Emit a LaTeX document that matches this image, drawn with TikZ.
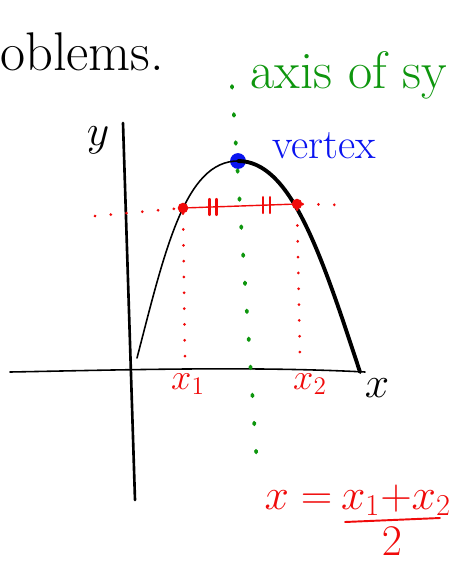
\documentclass[tikz,border=0pt]{standalone}
\usepackage{tikz}
\usepackage{xcolor}
\usetikzlibrary{positioning,calc}
\definecolor{InkBlack}{HTML}{000000}
\definecolor{InkRed}{HTML}{F00A0A}
\definecolor{InkGreen}{HTML}{0E960E}
\definecolor{InkBlue}{HTML}{0A14F0}
\tikzset{
    % Pen strokes
    ink/.style={
        draw=InkBlack,
        line width=0.9pt,
        line cap=round,
        line join=round
    },
    ink thick/.style={
        ink,
        line width=2.2pt
    },
    ink red/.style={
        ink,
        draw=InkRed,
        line width=0.8pt
    },
    dots red/.style={
        draw=InkRed,
        line width=1.7pt,
        line cap=round,
        dash pattern=on 0.01pt off 9pt
    },
    dots green/.style={
        draw=InkGreen,
        line width=2.1pt,
        line cap=round,
        dash pattern=on 1pt off 15pt
    },
    % Written labels
    scrawl/.style={
        inner sep=0pt,
        text=InkBlack,
        font=\fontsize{28}{32}\selectfont
    },
    scrawl red/.style={
        scrawl,
        text=InkRed,
        font=\fontsize{20}{24}\selectfont
    },
    scrawl green/.style={
        scrawl,
        text=InkGreen,
        font=\fontsize{30}{34}\selectfont
    },
    scrawl blue/.style={
        scrawl,
        text=InkBlue,
        font=\fontsize{24}{28}\selectfont
    },
    formula/.style={
        scrawl red,
        font=\fontsize{23}{27}\selectfont
    },
    dot/.style={
        circle,
        inner sep=0pt,
        minimum size=#1
    }
}

\begin{document}
\begin{tikzpicture}[x=0.02cm, y=-0.02cm]
        \useasboundingbox (0,0) rectangle (455,562);
        \clip (0,0) rectangle (455,562);

        % Text left over from the page above
        \node[scrawl, font=\fontsize{31}{35}\selectfont, anchor=base west] (prev) at (0,70) {oblems.};

        % Axes
        \coordinate (ytop) at (123,123);
        \coordinate (ybot) at (135,500);
        \coordinate (xleft) at (10,372);
        \coordinate (xright) at (365,372);
        \draw[ink, line width=1.5pt] (ytop) -- (ybot);
        \draw[ink] (xleft) .. controls (120,370) and (250,366) .. (xright);
        \node[scrawl] (ylabel) at (98,140) {$y$};
        \node[scrawl] (xlabel) at (377,388) {$x$};

        % Parabola
        \node[dot=9pt, fill=InkBlue] (vertex) at (238,161) {};
        \draw[ink] (137,358) .. controls (165,250) and (185,161) .. (vertex.center);
        \draw[ink thick] (vertex.center) .. controls (290,161) and (320,250) .. (360,372);
        \node[scrawl blue, anchor=base west] (vertexlabel) at (272,158) {vertex};

        % Axis of symmetry
        \coordinate (axistop) at (232,86);
        \coordinate (axisbot) at (257,465);
        \draw[dots green] (axistop) -- (axisbot);
        \node[scrawl green, anchor=base west] (axislabel) at (250,88) {axis of sy};

        % Points with equal height
        \node[dot=6pt, fill=InkRed] (ptleft) at (183,208) {};
        \node[dot=6pt, fill=InkRed] (ptright) at (297,204) {};
        \coordinate (lineleft) at (95,216);
        \coordinate (lineright) at (345,205);
        \coordinate (dropleft) at (185,362);
        \coordinate (dropright) at (300,360);
        \draw[dots red] (lineleft) -- (ptleft);
        \draw[dots red] (ptright) -- (lineright);
        \draw[ink red] (ptleft) -- (ptright);
        \draw[dots red] (ptleft) -- (dropleft);
        \draw[dots red] (ptright) -- (dropright);

        % Equal halves
        \foreach \t in {0.26,0.73} {
            \draw[ink red, line width=1.3pt] ($(ptleft)!\t!(ptright)+(-3,-8)$) -- ++(0,16);
            \draw[ink red, line width=1.3pt] ($(ptleft)!\t!(ptright)+(4,-8)$) -- ++(0,16);
        }

        % Roots
        \node[scrawl red] (xone) at (188,384) {$x_1$};
        \node[scrawl red] (xtwo) at (310,384) {$x_2$};

        % Midpoint formula
        \node[formula] (num) at (396,500) {$x_1{+}x_2$};
        \node[formula, left=0.16cm of num] (lhs) {$x=$};
        \coordinate (barleft) at (345,522);
        \coordinate (barright) at (440,518);
        \draw[ink red, line width=1.1pt] (barleft) -- (barright);
        \node[formula] (den) at (392,541) {$2$};
    \end{tikzpicture}
\end{document}
